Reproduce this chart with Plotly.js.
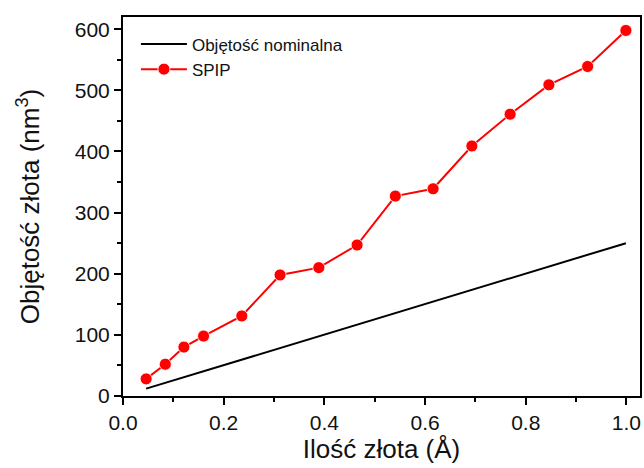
<!DOCTYPE html>
<html>
<head>
<meta charset="utf-8">
<script src="https://cdn.plot.ly/plotly-3.0.1.min.js"></script>
<style>html,body{margin:0;padding:0;background:#fff;}#chart{width:644px;height:468px;}</style>
</head>
<body>
<div id="chart"></div>
<script>
const spipX = [0.046, 0.084, 0.121, 0.160, 0.236, 0.312, 0.389, 0.465, 0.541, 0.616, 0.693, 0.769, 0.846, 0.923, 0.999];
const spipY = [28, 52, 80, 98, 131, 198, 210, 247, 327, 339, 409, 461, 509, 539, 598];
const nomX = [0.046, 0.999];
const nomY = [12, 250];
const seriesNames = ["Objętość nominalna", "SPIP"];

const font = "Liberation Sans, Arial, sans-serif";
const traces = [
  {x: nomX, y: nomY, name: seriesNames[0], mode: "lines",
   line: {color: "#000", width: 2}},
  {x: spipX, y: spipY, name: seriesNames[1], mode: "lines+markers",
   line: {color: "#ff0000", width: 2},
   marker: {color: "#ff0000", size: 12, line: {color: "#ffffff", width: 0.8}}}
];
const axisCommon = {
  showgrid: false, zeroline: false, showline: true, linecolor: "#000", linewidth: 2,
  mirror: true, ticks: "outside", ticklen: 7, tickwidth: 2, tickcolor: "#000",
  tickfont: {family: font, size: 21, color: "#111"}
};
const layout = {
  width: 644, height: 468,
  margin: {l: 123, r: 4, t: 17, b: 72},
  paper_bgcolor: "#fff", plot_bgcolor: "#fff",
  showlegend: true,
  legend: {x: 0.025, y: 0.975, xanchor: "left", yanchor: "top",
           bgcolor: "rgba(0,0,0,0)", font: {family: font, size: 17, color: "#111"},
           tracegroupgap: 0, itemwidth: 46},
  xaxis: Object.assign({}, axisCommon, {
    range: [0, 1.027], tick0: 0, dtick: 0.2, tickformat: ".1f",
    minor: {dtick: 0.1, ticks: "outside", ticklen: 4, tickwidth: 2, tickcolor: "#000"},
    title: {text: "Ilość złota (Å)", font: {family: font, size: 26, color: "#111"}, standoff: 5}
  }),
  yaxis: Object.assign({}, axisCommon, {
    range: [0, 620], tick0: 0, dtick: 100,
    minor: {dtick: 50, ticks: "outside", ticklen: 4, tickwidth: 2, tickcolor: "#000"},
    title: {text: "Objętość złota (nm<sup>3</sup>)", font: {family: font, size: 26, color: "#111"}, standoff: 28}
  })
};
Plotly.newPlot("chart", traces, layout, {displayModeBar: false, staticPlot: true});
</script>
</body>
</html>
